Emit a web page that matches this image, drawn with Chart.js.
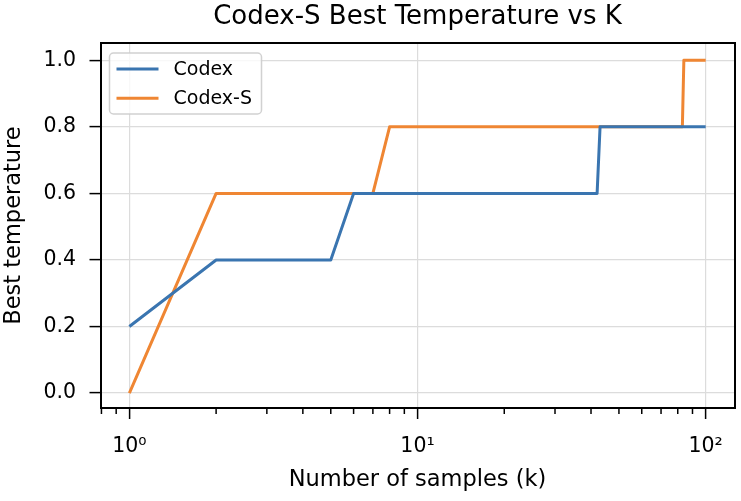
<!DOCTYPE html>
<html>
<head>
<meta charset="utf-8">
<script src="https://cdn.jsdelivr.net/npm/chart.js@4.4.1/dist/chart.umd.min.js"></script>
<style>
  html, body { margin: 0; padding: 0; background: #fff; }
  #wrap { width: 741px; height: 501px; }
</style>
</head>
<body>
<div id="wrap"><canvas id="tempChart"></canvas></div>
<script>
// k values where the best temperature changes
const codexK = [1, 2, 5, 6, 42, 43, 100];
const codexTemp = [0.2, 0.4, 0.4, 0.6, 0.6, 0.8, 0.8];
const codexSK = [1, 2, 7, 8, 83, 84, 100];
const codexSTemp = [0.0, 0.6, 0.6, 0.8, 0.8, 1.0, 1.0];

// axis ticks
const yTicks = [0.0, 0.2, 0.4, 0.6, 0.8, 1.0];
const xMajorTicks = [1, 10, 100];
const xMajorLabels = ['10⁰', '10¹', '10²'];
const xMinorTicks = [0.8, 0.9, 2, 3, 4, 5, 6, 7, 8, 9, 20, 30, 40, 50, 60, 70, 80, 90];

const FONT = "'DejaVu Sans', sans-serif";
const GRID = '#dcdcdc';

function toPoints(xs, ys) {
    return xs.map((x, i) => ({ x: x, y: ys[i] }));
}

function isMajor(v) {
    return xMajorTicks.some(m => Math.abs(m - v) < 1e-9);
}

// short minor ticks under the x axis
const minorTicks = {
    id: 'minorTicks',
    afterDraw(chart) {
        const ctx = chart.ctx;
        const sx = chart.scales.x;
        const bottom = chart.chartArea.bottom;
        ctx.save();
        ctx.strokeStyle = '#000';
        ctx.lineWidth = 1.5;
        xMinorTicks.forEach(v => {
            const px = sx.getPixelForValue(v);
            if (px < sx.left - 1 || px > sx.right + 1) return;
            ctx.beginPath();
            ctx.moveTo(px, bottom);
            ctx.lineTo(px, bottom + 6);
            ctx.stroke();
        });
        ctx.restore();
    }
};

// framed legend in the upper left corner of the plot
const boxLegend = {
    id: 'boxLegend',
    afterDraw(chart) {
        const ctx = chart.ctx;
        const area = chart.chartArea;
        const x = area.left + 9, y = area.top + 10, w = 152, h = 61;
        ctx.save();
        ctx.beginPath();
        ctx.roundRect(x, y, w, h, 4);
        ctx.fillStyle = 'rgba(255,255,255,0.8)';
        ctx.fill();
        ctx.strokeStyle = 'rgba(204,204,204,0.9)';
        ctx.lineWidth = 1.5;
        ctx.stroke();
        ctx.font = '19px ' + FONT;
        ctx.textBaseline = 'middle';
        ctx.fillStyle = '#000';
        chart.data.datasets.forEach((ds, i) => {
            const ly = y + 16 + i * 29.3;
            ctx.beginPath();
            ctx.strokeStyle = ds.borderColor;
            ctx.lineWidth = ds.borderWidth;
            ctx.moveTo(x + 7, ly);
            ctx.lineTo(x + 49, ly);
            ctx.stroke();
            ctx.fillText(ds.label, x + 64, ly + 1);
        });
        ctx.restore();
    }
};

const ctx = document.getElementById('tempChart').getContext('2d');
const tempChart = new Chart(ctx, {
    type: 'line',
    data: {
        datasets: [{
            label: 'Codex',
            data: toPoints(codexK, codexTemp),
            borderColor: '#3a75b0',
            borderWidth: 3,
            pointRadius: 0,
            tension: 0,
            borderJoinStyle: 'round'
        }, {
            label: 'Codex-S',
            data: toPoints(codexSK, codexSTemp),
            borderColor: '#ef8633',
            borderWidth: 3,
            pointRadius: 0,
            tension: 0,
            borderJoinStyle: 'round'
        }]
    },
    options: {
        responsive: true,
        maintainAspectRatio: false,
        animation: false,
        layout: { padding: { left: 0, right: 5.5, top: 0, bottom: 0 } },
        plugins: {
            legend: { display: false },
            tooltip: { enabled: false }
        },
        scales: {
            x: {
                type: 'logarithmic',
                position: 'bottom',
                min: 0.794,
                max: 125.9,
                afterBuildTicks: s => {
                    s.ticks = xMajorTicks.concat(xMinorTicks).sort((a, b) => a - b).map(v => ({ value: v }));
                },
                afterFit: s => { s.height = 93; },
                ticks: {
                    autoSkip: false,
                    maxRotation: 0,
                    padding: 15,
                    color: '#000',
                    font: { family: FONT, size: 20.5 },
                    callback: v => {
                        const i = xMajorTicks.findIndex(m => Math.abs(m - v) < 1e-9);
                        return i >= 0 ? xMajorLabels[i] : '';
                    }
                },
                grid: {
                    color: c => (c.tick && isMajor(c.tick.value)) ? GRID : 'rgba(0,0,0,0)',
                    lineWidth: 1.2,
                    tickLength: 11,
                    tickWidth: 1.5,
                    tickColor: c => (c.tick && isMajor(c.tick.value)) ? '#000' : 'rgba(0,0,0,0)'
                },
                border: { display: true, color: '#000', width: 2 },
                title: {
                    display: true,
                    text: 'Number of samples (k)',
                    color: '#000',
                    padding: 7.5,
                    font: { family: FONT, size: 22.5 }
                }
            },
            x2: {
                type: 'logarithmic',
                position: 'top',
                min: 0.794,
                max: 125.9,
                afterFit: s => { s.height = 43; },
                ticks: { display: false },
                grid: { drawOnChartArea: false, drawTicks: false },
                border: { display: true, color: '#000', width: 2 },
                title: {
                    display: true,
                    text: 'Codex-S Best Temperature vs K',
                    color: '#000',
                    padding: 1.4,
                    font: { family: FONT, size: 26 }
                }
            },
            y: {
                type: 'linear',
                position: 'left',
                min: -0.045,
                max: 1.052,
                afterBuildTicks: s => {
                    s.ticks = yTicks.map(v => ({ value: v }));
                },
                afterFit: s => { s.width = 100.5; },
                ticks: {
                    padding: 13.5,
                    color: '#000',
                    font: { family: FONT, size: 20.5 },
                    callback: v => Number(v).toFixed(1)
                },
                grid: {
                    color: GRID,
                    lineWidth: 1.2,
                    tickLength: 11,
                    tickWidth: 1.5,
                    tickColor: '#000'
                },
                border: { display: true, color: '#000', width: 2 },
                title: {
                    display: true,
                    text: 'Best temperature',
                    color: '#000',
                    padding: 1,
                    font: { family: FONT, size: 22.5 }
                }
            },
            y2: {
                type: 'linear',
                position: 'right',
                min: -0.045,
                max: 1.052,
                afterFit: s => { s.width = 1; },
                ticks: { display: false },
                grid: { drawOnChartArea: false, drawTicks: false },
                border: { display: true, color: '#000', width: 2 }
            }
        }
    },
    plugins: [minorTicks, boxLegend]
});
</script>
</body>
</html>
